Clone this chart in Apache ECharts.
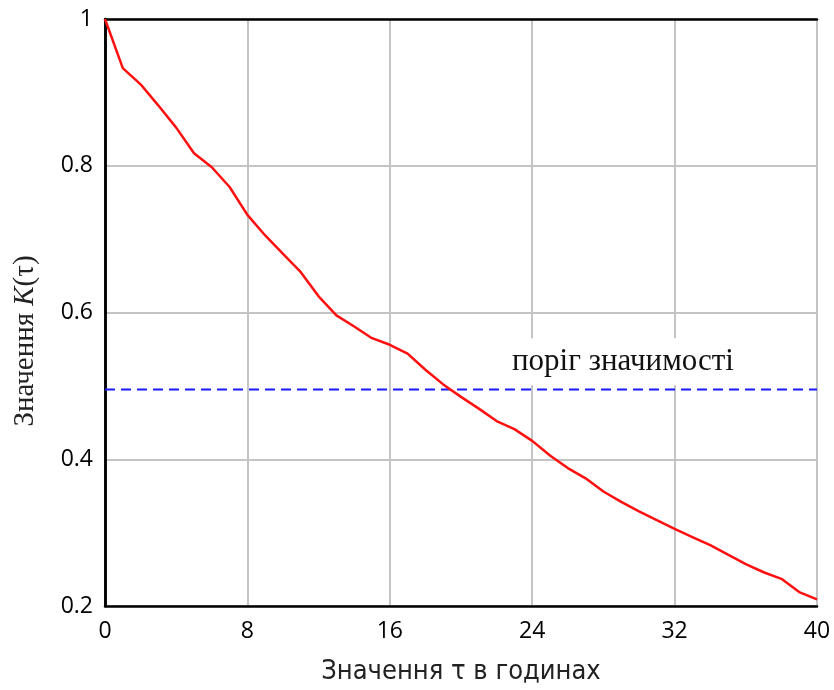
<!DOCTYPE html>
<html>
<head>
<meta charset="utf-8">
<script src="https://cdn.jsdelivr.net/npm/echarts@6/dist/echarts.min.js"></script>
<style>html,body{margin:0;padding:0;background:#fff;}#c{width:834px;height:690px;}</style>
</head>
<body>
<div id="c"></div>
<script>
// Data
var tau = [0,1,2,3,4,5,6,7,8,9,10,11,12,13,14,15,16,17,18,19,20,21,22,23,24,25,26,27,28,29,30,31,32,33,34,35,36,37,38,39,40];
var kValues = [1.0,0.933,0.911,0.882,0.852,0.817,0.798,0.771,0.733,0.705,0.680,0.655,0.622,0.596,0.581,0.565,0.556,0.544,0.522,0.502,0.485,0.469,0.452,0.441,0.425,0.405,0.388,0.374,0.356,0.342,0.329,0.317,0.305,0.294,0.283,0.270,0.257,0.246,0.237,0.219,0.209];
var threshold = 0.495;
var thresholdLabel = 'поріг значимості';
var thresholdLabelAt = [29.1, 0.533];
var xTicks = [0, 8, 16, 24, 32, 40];
var yTicks = [0.2, 0.4, 0.6, 0.8, 1];
var xTitle = 'Значення τ в годинах';
var yTitleParts = ['Значення ', 'K', '(τ)'];

var chart = echarts.init(document.getElementById('c'), null, {renderer: 'canvas'});
var curve = tau.map(function (t, i) { return [t, kValues[i]]; });
var thrLine = [[xTicks[0], threshold], [xTicks[xTicks.length - 1], threshold]];

var tickFont = {fontFamily: 'Open Sans', fontSize: 23, color: '#000'};
var frameLine = {show: true, lineStyle: {color: '#000', width: 2.5}};
var xMin = xTicks[0], xMax = xTicks[xTicks.length - 1];
var yMin = yTicks[0], yMax = yTicks[yTicks.length - 1];

chart.setOption({
  animation: false,
  backgroundColor: '#fff',
  grid: {left: 105, right: 17, top: 19, bottom: 84},
  xAxis: [{
    type: 'value', min: xMin, max: xMax, interval: 8,
    axisLine: frameLine,
    axisTick: {show: false},
    splitLine: {show: true, lineStyle: {color: '#c4c4c4', width: 2}},
    axisLabel: Object.assign({margin: 14}, tickFont),
    name: xTitle, nameLocation: 'middle', nameGap: 52,
    nameTextStyle: {fontFamily: 'DejaVu Sans Condensed', fontSize: 27, color: '#222'}
  }, {
    type: 'value', position: 'top', min: xMin, max: xMax, interval: 8,
    axisLine: frameLine, axisTick: {show: false}, axisLabel: {show: false}, splitLine: {show: false}
  }],
  yAxis: [{
    type: 'value', min: yMin, max: yMax, interval: 0.2,
    axisLine: frameLine,
    axisTick: {show: false},
    splitLine: {show: true, lineStyle: {color: '#c4c4c4', width: 2}},
    axisLabel: Object.assign({margin: 12}, tickFont)
  }, {
    type: 'value', position: 'right', min: yMin, max: yMax, interval: 0.2,
    axisLine: frameLine, axisTick: {show: false}, axisLabel: {show: false}, splitLine: {show: false}
  }],
  series: [
    {type: 'line', data: thrLine, showSymbol: false, symbol: 'none', z: 3,
     lineStyle: {color: '#1a1aff', width: 2, type: [10, 6]}},
    {type: 'line', data: curve, showSymbol: false, symbol: 'none', z: 4,
     lineStyle: {color: '#ff1010', width: 2.5}}
  ]
});

var p = chart.convertToPixel({gridIndex: 0}, thresholdLabelAt);
chart.setOption({
  graphic: [{
    type: 'text', x: p[0], y: p[1], z: 2,
    style: {text: thresholdLabel, font: '31px "Liberation Serif"', fill: '#111',
      align: 'center', verticalAlign: 'middle', backgroundColor: '#fff', padding: [8, 4]}
  }, {
    type: 'text', x: 25, y: 341, rotation: Math.PI / 2,
    style: {
      text: '{n|' + yTitleParts[0] + '}{i|' + yTitleParts[1] + '}{n|' + yTitleParts[2] + '}',
      font: '29px "Liberation Serif"', fill: '#222',
      align: 'center', verticalAlign: 'middle',
      rich: {
        n: {font: '29px "Liberation Serif"', fill: '#222'},
        i: {font: 'italic 29px "Liberation Serif"', fill: '#222'}
      }
    }
  }]
});
</script>
</body>
</html>
